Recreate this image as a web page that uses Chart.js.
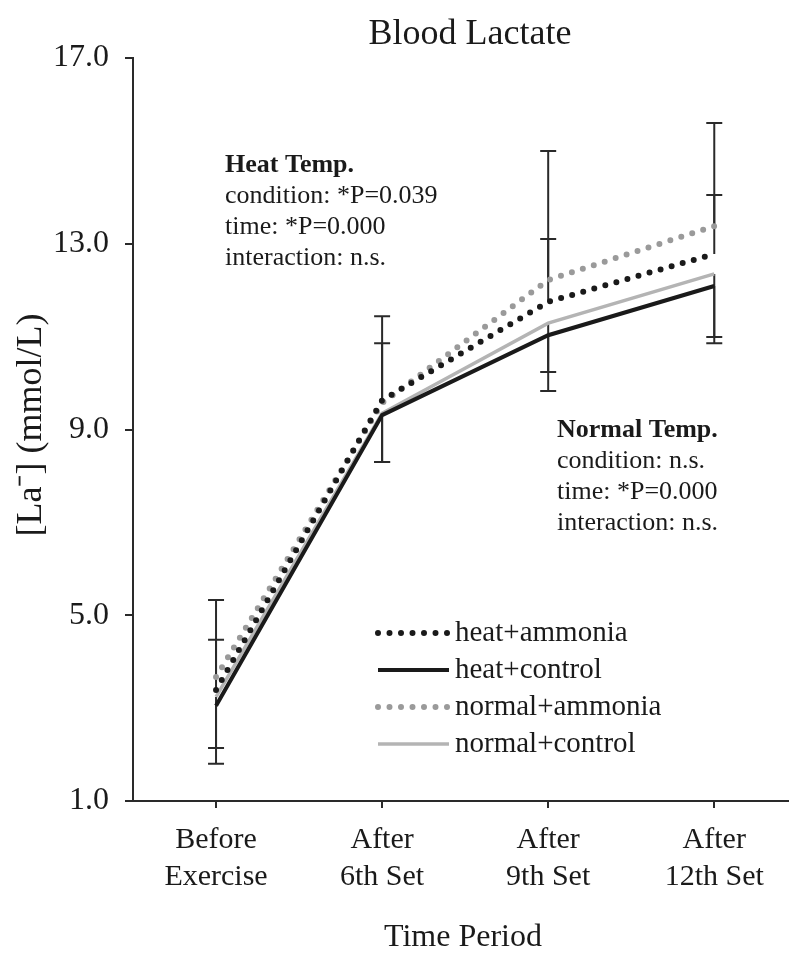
<!DOCTYPE html>
<html>
<head>
<meta charset="utf-8">
<script src="https://cdn.jsdelivr.net/npm/chart.js@4.4.0/dist/chart.umd.min.js"></script>
<style>
  html, body { margin: 0; padding: 0; background: #fff; }
  #wrap { width: 789px; height: 966px; }
</style>
</head>
<body>
<div id="wrap"><canvas id="chart" width="789" height="966"></canvas></div>
<script>
const SERIF = '"Liberation Serif", "Times New Roman", serif';

const periods = [["Before", "Exercise"], ["After", "6th Set"], ["After", "9th Set"], ["After", "12th Set"]];
const xPos = [0, 1, 2, 3];
const yTicks = [1, 5, 9, 13, 17];

const heatAmmonia = [3.39, 9.63, 11.75, 12.78];
const heatControl = [3.05, 9.31, 11.03, 12.09];
const normalAmmonia = [3.67, 9.57, 12.22, 13.38];
const normalControl = [3.24, 9.35, 11.29, 12.35];

// error bar ends (mean +/- SD)
const heatAmmoniaUp = [5.33, 11.44, 15.0, 15.6];
const normalAmmoniaUp = [4.47, 10.86, 13.1, 14.05];
const heatControlDown = [1.8, 8.3, 9.83, 10.86];
const normalControlDown = [2.14, 8.3, 10.24, 10.99];

const heatNote = ["Heat Temp.", "condition: *P=0.039", "time: *P=0.000", "interaction: n.s."];
const normalNote = ["Normal Temp.", "condition: n.s.", "time: *P=0.000", "interaction: n.s."];

const toPts = (arr) => arr.map((v, i) => ({ x: xPos[i], y: v }));

const series = [
  { label: "heat+ammonia", data: heatAmmonia, color: "#1a1a1a", width: 6, dash: [0, 11.5] },
  { label: "heat+control", data: heatControl, color: "#1a1a1a", width: 4, dash: [] },
  { label: "normal+ammonia", data: normalAmmonia, color: "#9a9a9a", width: 6, dash: [0, 11.5] },
  { label: "normal+control", data: normalControl, color: "#b4b4b4", width: 3.5, dash: [] }
];

const errorBars = [
  { from: heatAmmonia, to: heatAmmoniaUp },
  { from: normalAmmonia, to: normalAmmoniaUp },
  { from: heatControl, to: heatControlDown },
  { from: normalControl, to: normalControlDown }
];

const errorBarPlugin = {
  id: "errorBars",
  beforeDatasetsDraw(chart) {
    const { ctx, scales } = chart;
    ctx.save();
    ctx.strokeStyle = "#2a2a2a";
    ctx.lineWidth = 2;
    errorBars.forEach((eb) => {
      eb.from.forEach((v, i) => {
        const x = scales.x.getPixelForValue(xPos[i]);
        const y0 = scales.y.getPixelForValue(v);
        const y1 = scales.y.getPixelForValue(eb.to[i]);
        ctx.beginPath();
        ctx.moveTo(x, y0);
        ctx.lineTo(x, y1);
        ctx.moveTo(x - 8, y1);
        ctx.lineTo(x + 8, y1);
        ctx.stroke();
      });
    });
    ctx.restore();
  }
};

const textPlugin = {
  id: "texts",
  afterDraw(chart) {
    const { ctx } = chart;
    ctx.save();
    ctx.fillStyle = "#1a1a1a";

    ctx.font = "36px " + SERIF;
    ctx.textAlign = "center";
    ctx.textBaseline = "alphabetic";
    ctx.fillText("Blood Lactate", 470, 44);

    ctx.font = "32px " + SERIF;
    ctx.fillText("Time Period", 463, 946);

    ctx.save();
    ctx.translate(32, 425);
    ctx.rotate(-Math.PI / 2);
    ctx.textBaseline = "middle";
    ctx.font = "36px " + SERIF;
    ctx.fillText("[La\u207B] (mmol/L)", 0, 0);
    ctx.restore();

    ctx.textAlign = "left";
    ctx.textBaseline = "alphabetic";
    const drawNote = (lines, x, y) => {
      lines.forEach((t, i) => {
        ctx.font = (i === 0 ? "bold " : "") + "26px " + SERIF;
        ctx.fillText(t, x, y + i * 31);
      });
    };
    drawNote(heatNote, 225, 172);
    drawNote(normalNote, 557, 437);

    // legend
    series.forEach((s, i) => {
      const y = 633 + i * 37;
      ctx.save();
      ctx.strokeStyle = s.color;
      ctx.lineWidth = s.width;
      ctx.lineCap = s.dash.length ? "round" : "butt";
      ctx.setLineDash(s.dash);
      ctx.beginPath();
      ctx.moveTo(378, y);
      ctx.lineTo(449, y);
      ctx.stroke();
      ctx.restore();
      ctx.font = "29px " + SERIF;
      ctx.textBaseline = "middle";
      ctx.fillText(s.label, 455, y);
    });
    ctx.restore();
  }
};

new Chart(document.getElementById("chart"), {
  type: "line",
  data: {
    datasets: series.map((s) => ({
      label: s.label,
      data: toPts(s.data),
      borderColor: s.color,
      borderWidth: s.width,
      borderDash: s.dash,
      borderCapStyle: s.dash.length ? "round" : "butt",
      pointRadius: 0,
      tension: 0,
      fill: false
    }))
  },
  options: {
    responsive: false,
    animation: false,
    layout: { padding: { top: 58, left: 0, right: 0, bottom: 0 } },
    plugins: { legend: { display: false }, title: { display: false }, tooltip: { enabled: false } },
    scales: {
      x: {
        type: "linear",
        min: -0.5,
        max: 3.45,
        afterFit: (scale) => { scale.height = 165; },
        afterBuildTicks: (scale) => { scale.ticks = xPos.map((v) => ({ value: v })); },
        ticks: {
          callback: (v) => periods[v] || "",
          font: { family: SERIF, size: 30, lineHeight: 1.22 },
          color: "#1a1a1a",
          padding: 14,
          maxRotation: 0,
          autoSkip: false
        },
        grid: { drawOnChartArea: false, tickLength: 7, color: "#2a2a2a", lineWidth: 2 },
        border: { color: "#2a2a2a", width: 2 }
      },
      y: {
        min: 1,
        max: 17,
        afterFit: (scale) => { scale.width = 133; },
        afterBuildTicks: (scale) => { scale.ticks = yTicks.map((v) => ({ value: v })); },
        ticks: {
          callback: (v) => v.toFixed(1),
          font: { family: SERIF, size: 32 },
          color: "#1a1a1a",
          padding: 16
        },
        grid: { drawOnChartArea: false, tickLength: 8, color: "#2a2a2a", lineWidth: 2 },
        border: { color: "#2a2a2a", width: 2 }
      }
    }
  },
  plugins: [errorBarPlugin, textPlugin]
});
</script>
</body>
</html>
